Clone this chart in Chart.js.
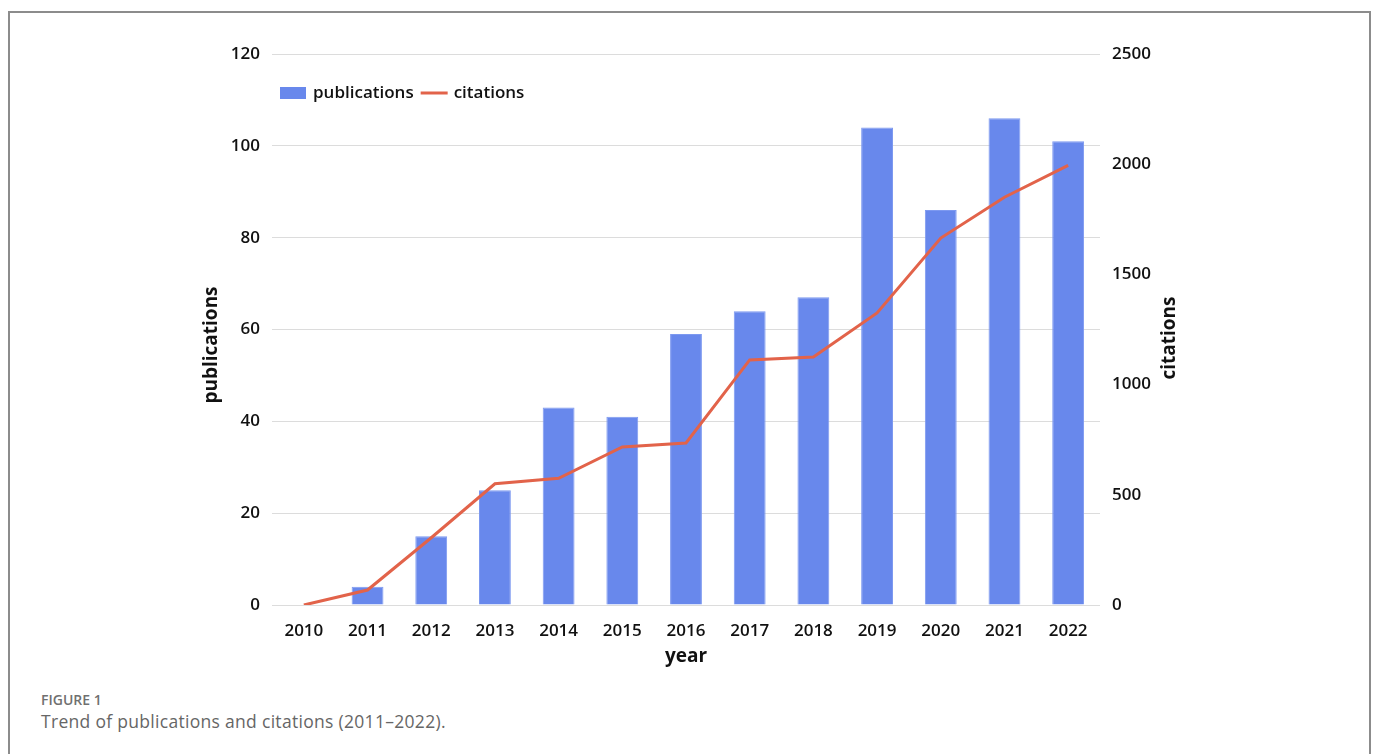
<!DOCTYPE html>
<html>
<head>
<meta charset="utf-8">
<script src="https://cdn.jsdelivr.net/npm/chart.js@4.4.1/dist/chart.umd.min.js"></script>
<style>
  html, body { margin: 0; padding: 0; background: #fff; width: 1375px; height: 754px; overflow: hidden; }
  #frame {
    position: absolute; left: 8px; top: 11px; width: 1359px; height: 800px;
    border: 2px solid #8c8c8c; border-bottom: none;
  }
  #chart-box { position: absolute; left: 0; top: 0; width: 1375px; height: 680px; }
  .fig-label {
    position: absolute; left: 41px; top: 690px;
    font: 600 14px "Open Sans", sans-serif; color: #707070;
  }
  .fig-caption {
    position: absolute; left: 41px; top: 709px;
    font: 400 17.5px "Open Sans", sans-serif; letter-spacing: 0.3px; color: #666;
  }
</style>
</head>
<body>
<div id="frame"></div>
<div id="chart-box"><canvas id="trend-chart"></canvas></div>
<div class="fig-label">FIGURE 1</div>
<div class="fig-caption">Trend of publications and citations (2011–2022).</div>

<script>
const years = ["2010", "2011", "2012", "2013", "2014", "2015", "2016", "2017", "2018", "2019", "2020", "2021", "2022"];
const publications = [null, 4, 15, 25, 43, 41, 59, 64, 67, 104, 86, 106, 101];
const citations = [0, 68, 305, 550, 575, 717, 735, 1112, 1125, 1325, 1665, 1850, 1995];

const bar_colour = "#6888ec";
const line_colour = "#e2634a";
const font_family = '"Open Sans", sans-serif';

// legend sits inside the plot area on one row, drawn from the dataset styles
const insideLegend = {
  id: "insideLegend",
  afterDraw(chart) {
    const ctx = chart.ctx;
    const area = chart.chartArea;
    const sets = chart.data.datasets;
    let x = area.left + 8;
    const y = area.top + 39;
    ctx.save();
    ctx.font = `600 17px ${font_family}`;
    ctx.textBaseline = "middle";
    ctx.textAlign = "left";
    sets.forEach((ds) => {
      if (ds.type === "bar") {
        ctx.fillStyle = ds.backgroundColor;
        ctx.fillRect(x, y - 6, 26, 12);
      } else {
        ctx.strokeStyle = ds.borderColor;
        ctx.lineWidth = ds.borderWidth;
        ctx.beginPath();
        ctx.moveTo(x, y);
        ctx.lineTo(x + 27, y);
        ctx.stroke();
      }
      x += 33;
      ctx.fillStyle = "#111";
      ctx.fillText(ds.label, x, y);
      x += ctx.measureText(ds.label).width + 7;
    });
    ctx.restore();
  }
};

// both y titles read bottom-to-top, so draw them by hand
const axisTitles = {
  id: "axisTitles",
  afterDraw(chart) {
    const ctx = chart.ctx;
    const left = chart.scales.y;
    const right = chart.scales.y1;
    ctx.save();
    ctx.fillStyle = "#111";
    ctx.font = `700 19px ${font_family}`;
    ctx.textAlign = "center";
    ctx.textBaseline = "middle";

    ctx.save();
    ctx.translate(left.left + 22, 345);
    ctx.rotate(-Math.PI / 2);
    ctx.fillText("publications", 0, 0);
    ctx.restore();

    ctx.save();
    ctx.translate(right.left + 70, 338);
    ctx.rotate(-Math.PI / 2);
    ctx.fillText("citations", 0, 0);
    ctx.restore();

    ctx.restore();
  }
};

const ctx = document.getElementById("trend-chart").getContext("2d");

new Chart(ctx, {
  type: "bar",
  data: {
    labels: years,
    datasets: [
      {
        type: "bar",
        label: "publications",
        data: publications,
        yAxisID: "y",
        backgroundColor: bar_colour,
        borderColor: "#7d99f0",
        borderWidth: 1,
        categoryPercentage: 1,
        barPercentage: 0.5,
        order: 2
      },
      {
        type: "line",
        label: "citations",
        data: citations,
        yAxisID: "y1",
        borderColor: line_colour,
        backgroundColor: line_colour,
        borderWidth: 3,
        pointRadius: 0,
        tension: 0,
        fill: false,
        order: 1
      }
    ]
  },
  options: {
    responsive: true,
    maintainAspectRatio: false,
    animation: false,
    layout: {
      padding: { left: 190, right: 180, top: 54, bottom: 10 }
    },
    scales: {
      x: {
        grid: { display: false },
        border: { display: false },
        ticks: {
          color: "#111",
          padding: 8,
          font: { family: font_family, size: 17, weight: "600" }
        },
        title: {
          display: true,
          text: "year",
          color: "#111",
          padding: { top: 0, bottom: 2 },
          font: { family: font_family, size: 19, weight: "700" }
        },
        afterFit(scale) { scale.height = 65; }
      },
      y: {
        position: "left",
        min: 0,
        max: 120,
        ticks: {
          stepSize: 20,
          color: "#111",
          padding: 12,
          font: { family: font_family, size: 17, weight: "600" }
        },
        grid: { color: "#dcdcdc", lineWidth: 1, drawTicks: false },
        border: { display: false },
        afterFit(scale) { scale.width = 82; }
      },
      y1: {
        position: "right",
        min: 0,
        max: 2500,
        ticks: {
          stepSize: 500,
          color: "#111",
          padding: 12,
          font: { family: font_family, size: 17, weight: "600" },
          callback: (v) => String(v)
        },
        grid: { drawOnChartArea: false, drawTicks: false },
        border: { display: false },
        afterFit(scale) { scale.width = 95; }
      }
    },
    plugins: {
      legend: { display: false },
      tooltip: { enabled: false }
    }
  },
  plugins: [insideLegend, axisTitles]
});
</script>
</body>
</html>
